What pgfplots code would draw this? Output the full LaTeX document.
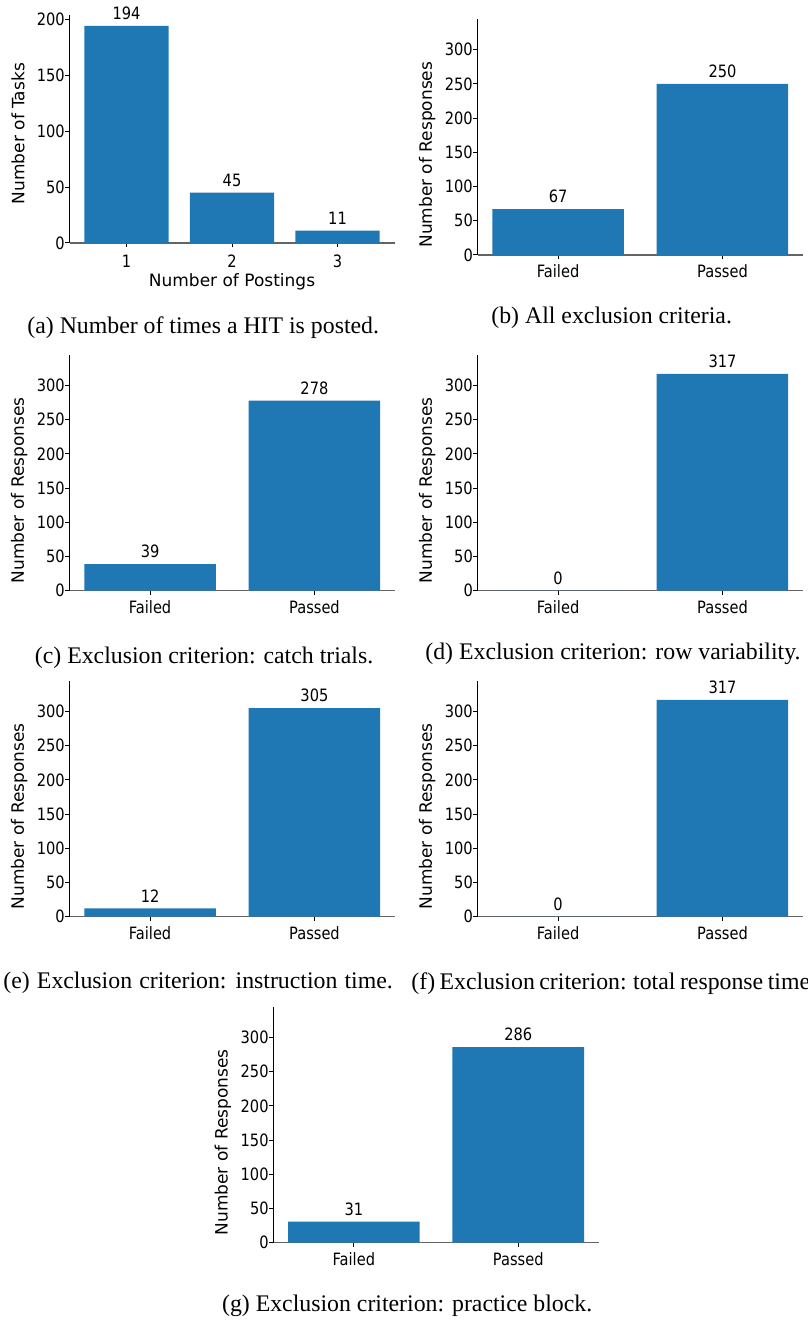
\documentclass[border=0pt]{standalone}
\usepackage{pgfplots}
\pgfplotsset{compat=1.18}
\usepackage{fontspec}
\setmainfont{Liberation Serif}
\newfontfamily\labfont{DejaVu Sans}
\newfontfamily\tickfont[FakeStretch=0.86]{DejaVu Sans}
\definecolor{mplblue}{RGB}{31,119,180}
\definecolor{spinegray}{RGB}{100,100,100}
\newcommand{\capfont}{\fontsize{11.9}{14}\selectfont}
\pgfplotsset{
  base/.style={
    scale only axis,
    axis x line*=bottom, axis y line*=left,
    x axis line style={spinegray, line width=0.65pt},
    y axis line style={black, line width=0.6pt},
    tick align=outside, major tick length=2.15pt,
    every tick/.style={black, line width=0.5pt},
    ymin=0,
    ybar, bar width=0.8,
    clip=false,
    every axis plot post/.append style={fill=mplblue, draw=none},
    /pgf/number format/assume math mode=true,
    ticklabel style={font=\tickfont\fontsize{8.5}{10}\selectfont},
    yticklabel style={anchor=east, inner sep=0pt, xshift=0pt},
    xticklabel style={anchor=north, inner sep=0pt, yshift=-2.5pt},
    label style={font=\labfont\fontsize{8.5}{10}\selectfont},
    nodes near coords,
    nodes near coords style={font=\tickfont\fontsize{8.5}{10}\selectfont, anchor=base, yshift=3.1pt, text=black, inner sep=0pt},
  },
  resp/.style={
    base,
    width=162.75pt, height=118pt,
    ymax=345, xmin=-0.49, xmax=1.49,
    xtick={0,1}, xticklabels={Failed,Passed},
    ytick={0,50,100,150,200,250,300},
    ylabel={Number of Responses},
    ylabel style={at={(axis description cs:-0.1545,0.425)}, anchor=center},
  },
}
\begin{document}
\begin{tikzpicture}
\clip (0,0) rectangle (403.5pt,-660pt);
\fill[white] (0,0) rectangle (403.5pt,-660pt);

% (a)
\begin{axis}[base, at={(34.75pt,-121.5pt)}, anchor=south west,
  width=162.5pt, height=114pt,
  ymax=203.7, xmin=0.46, xmax=3.54,
  xtick={1,2,3}, ytick={0,50,100,150,200},
  xticklabel style={yshift=-1pt},
  ylabel={Number of Tasks},
  ylabel style={at={(axis description cs:-0.158,0.48)}, anchor=center},
  xlabel={Number of Postings},
  xlabel style={at={(axis description cs:0.5,0)}, anchor=base, yshift=-21.85pt},
]
\addplot[fill=mplblue, draw=none] coordinates {(1,194) (2,45) (3,11)};
\end{axis}

% (b)
\begin{axis}[resp, at={(238.75pt,-127.5pt)}, anchor=south west]
\addplot[fill=mplblue, draw=none] coordinates {(0,67) (1,250)};
\end{axis}

% (c)
\begin{axis}[resp, at={(34.75pt,-295.35pt)}, anchor=south west]
\addplot[fill=mplblue, draw=none] coordinates {(0,39) (1,278)};
\end{axis}

% (d)
\begin{axis}[resp, at={(238.75pt,-295.35pt)}, anchor=south west]
\addplot[fill=mplblue, draw=none] coordinates {(0,0) (1,317)};
\end{axis}

% (e)
\begin{axis}[resp, at={(34.75pt,-458.35pt)}, anchor=south west]
\addplot[fill=mplblue, draw=none] coordinates {(0,12) (1,305)};
\end{axis}

% (f)
\begin{axis}[resp, at={(238.75pt,-458.35pt)}, anchor=south west]
\addplot[fill=mplblue, draw=none] coordinates {(0,0) (1,317)};
\end{axis}

% (g)
\begin{axis}[resp, at={(136.65pt,-621.35pt)}, anchor=south west]
\addplot[fill=mplblue, draw=none] coordinates {(0,31) (1,286)};
\end{axis}

\node[anchor=base west, inner sep=0pt, font=\capfont] at (13.5pt,-166.75pt) {(a) Number of times a HIT is posted.};
\node[anchor=base west, inner sep=0pt, font=\capfont] at (245.5pt,-162pt) {(b) All exclusion criteria.};
\node[anchor=base west, inner sep=0pt, font=\capfont] at (17.25pt,-331.5pt) {(c) Exclusion criterion: catch trials.};
\node[anchor=base west, inner sep=0pt, font=\capfont] at (212.5pt,-329.75pt) {(d) Exclusion criterion: row variability.};
\node[anchor=base west, inner sep=0pt, font=\capfont] at (1.5pt,-494pt) {\spaceskip=0.3em (e) Exclusion criterion: instruction time.};
\node[anchor=base west, inner sep=0pt, font=\capfont] at (205.5pt,-494.5pt) {\spaceskip=0.19em (f) Exclusion criterion: total response time.};
\node[anchor=base west, inner sep=0pt, font=\capfont] at (110.85pt,-655.5pt) {(g) Exclusion criterion: practice block.};
\end{tikzpicture}
\end{document}
